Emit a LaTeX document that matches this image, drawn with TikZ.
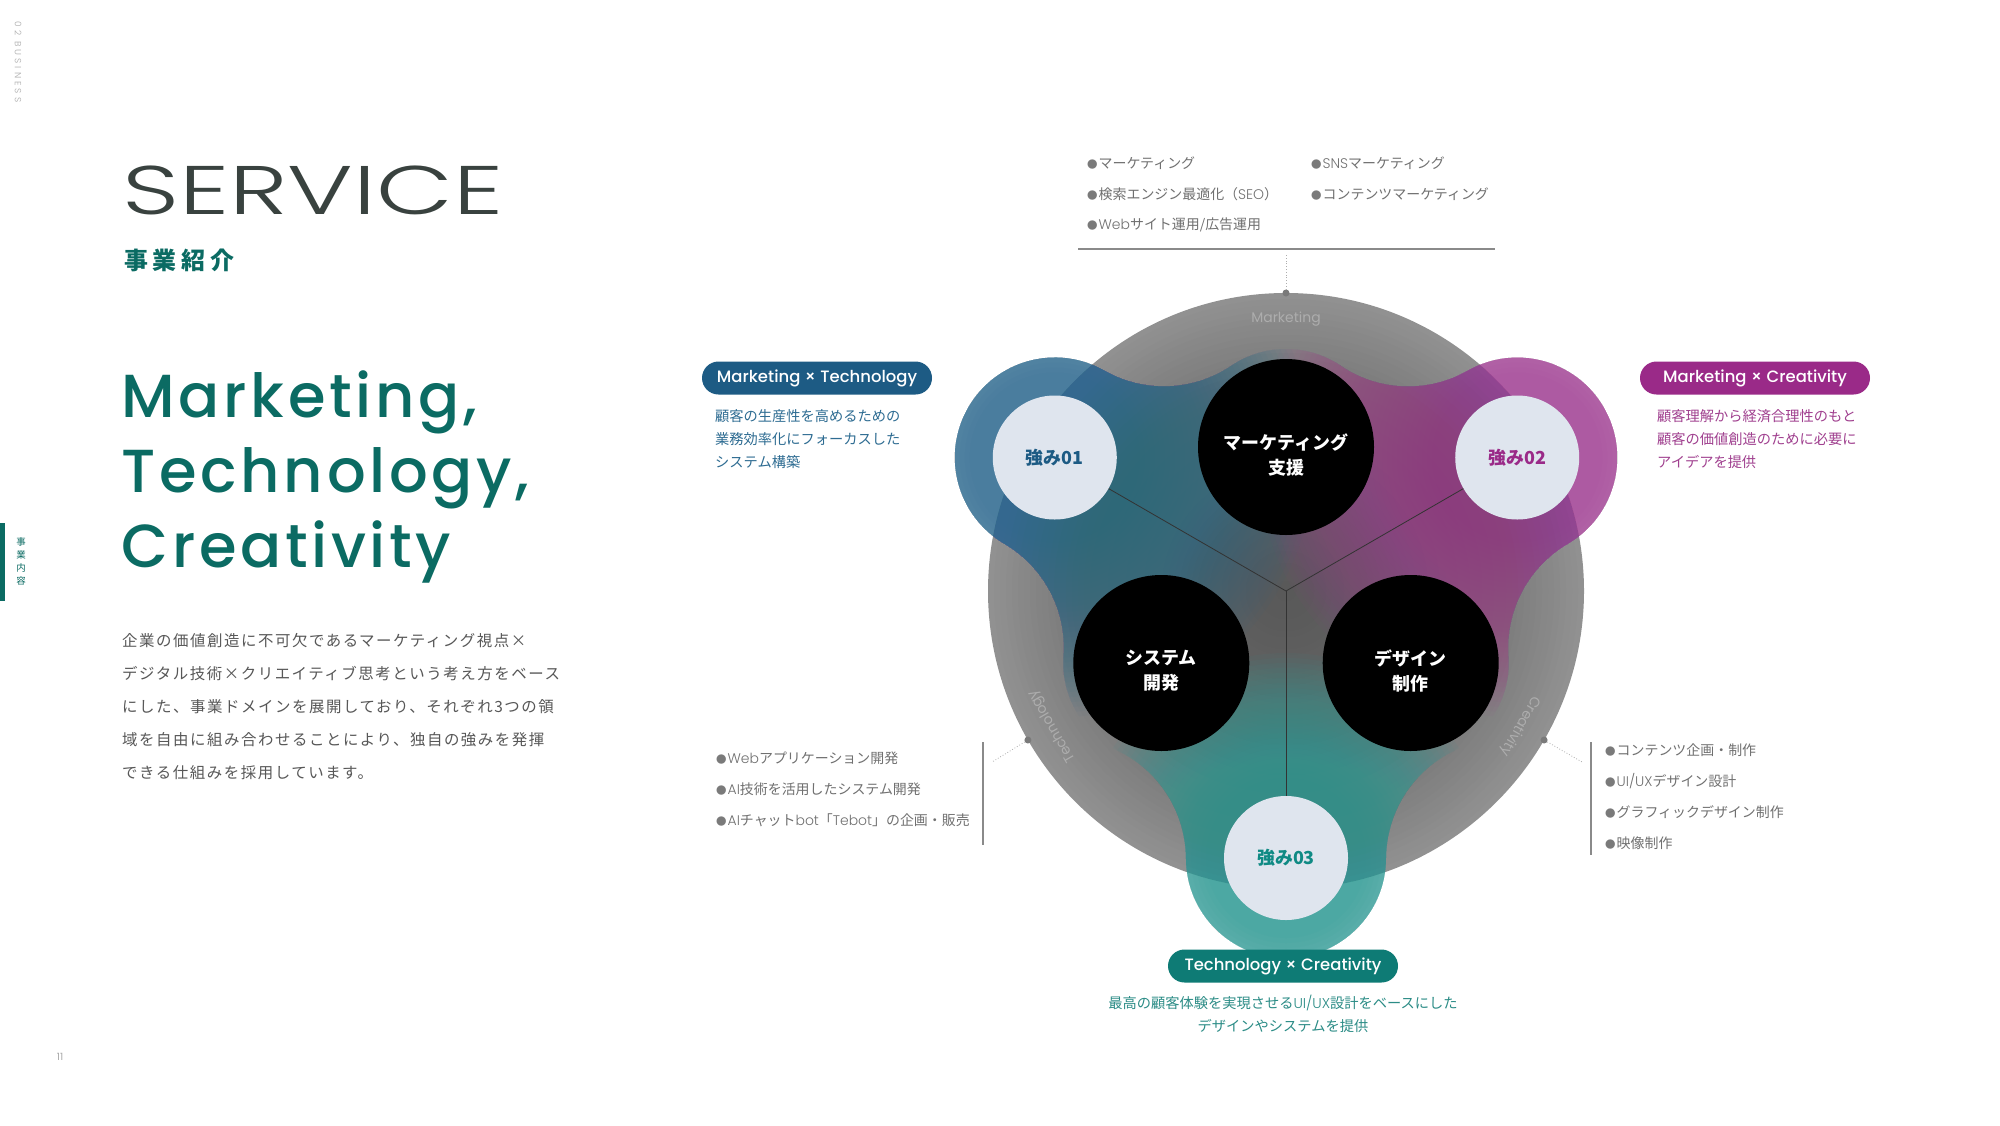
\documentclass[tikz,border=0pt]{standalone}
\usepackage{fontspec}
\setmainfont{Noto Sans CJK JP}
\newfontfamily\jpbody{Noto Sans CJK JP}[LetterSpace=10]
\newfontfamily\jphead{Noto Sans CJK JP}[LetterSpace=20]
\newfontfamily\pop{Poppins}
\newfontfamily\poplt{Poppins Light}
\newfontfamily\popmid{Poppins Medium}
\newfontfamily\popwide{Poppins Medium}[LetterSpace=6]
\newfontfamily\poplight{Poppins Light}[FakeStretch=1.45]
\newfontfamily\poptiny{Poppins Light}[LetterSpace=35]
\usetikzlibrary{calc}

\definecolor{headteal}{HTML}{0B6B63}
\definecolor{svcgray}{HTML}{39423F}
\definecolor{bodygray}{HTML}{575757}
\definecolor{listgray}{HTML}{707070}
\definecolor{bulgray}{HTML}{7A7A7A}
\definecolor{tinygray}{HTML}{A8A8A8}
\definecolor{rulegray}{HTML}{8A8A8A}
\definecolor{labelgray}{HTML}{ADADAD}
\definecolor{mtblue}{HTML}{1D5B84}
\definecolor{mtlobe}{HTML}{26688F}
\definecolor{mttext}{HTML}{2E6C92}
\definecolor{mcpink}{HTML}{9A2A88}
\definecolor{mclobe}{HTML}{A23B94}
\definecolor{mctext}{HTML}{A0408F}
\definecolor{tcteal}{HTML}{0E7B75}
\definecolor{tclobe}{HTML}{2C9C96}
\definecolor{tctext}{HTML}{2B8C86}
\definecolor{tcstrong}{HTML}{0F8A84}
\definecolor{lightdisc}{HTML}{DFE5EE}
\definecolor{gcin}{HTML}{595959}
\definecolor{gcout}{HTML}{919191}

\newcommand\bul{{\fontsize{10.5}{10}\selectfont\textcolor{bulgray}{●}}\hspace{1bp}}

\begin{document}
\begin{tikzpicture}[x=1bp,y=-1bp,
  item/.style={anchor=west,inner sep=0,text=listgray,font=\fontsize{14}{16}\selectfont},
  desc/.style={inner sep=0,font=\fontsize{14.3}{23}\selectfont},
  pill/.style={rounded corners=16.5bp,minimum width=230bp,minimum height=33bp,inner sep=0,text=white,font=\popmid\fontsize{16.5}{20}\selectfont},
  core/.style={circle,fill=black,minimum size=176bp,inner sep=0},
  coretext/.style={text=white,align=center,inner sep=0,font=\bfseries\fontsize{18}{25}\selectfont},
  strong/.style={circle,fill=lightdisc,minimum size=124bp,inner sep=0,font=\bfseries\fontsize{18}{20}\selectfont},
  ring/.style={text=labelgray,inner sep=0,font=\pop\fontsize{14}{16}\selectfont},
  edgedot/.style={circle,fill=bulgray,minimum size=7bp,inner sep=0},
  guide/.style={draw=rulegray!70,dotted,line width=.8bp},
  hubline/.style={draw=black!80,line width=.8bp}
]
\fill[white] (0,0) rectangle (2000,1125);
\useasboundingbox (0,0) rectangle (2000,1125);

% left column
\node[rotate=-90,text=tinygray,font=\poptiny\fontsize{9}{9}\selectfont] (bizTag) at (18,62) {02 BUSINESS};
\fill[headteal] (0,523) rectangle (5,601);
\node[align=center,text=headteal,inner sep=0,font=\fontsize{9.5}{13}\selectfont] (bizSide) at (21,561) {事\\業\\内\\容};
\node[anchor=west,inner sep=0,text=svcgray,font=\poplight\fontsize{69}{70}\selectfont] (svc) at (122,190) {SERVICE};
\node[anchor=west,inner sep=0,text=headteal,font=\jphead\bfseries\fontsize{24}{26}\selectfont] (svcJp) at (124,260) {事業紹介};
\node[anchor=base west,inner sep=0,text=headteal,font=\popwide\fontsize{61}{75}\selectfont] (hdA) at (121.5,417) {Marketing,};
\node[anchor=base west,inner sep=0,text=headteal,font=\popwide\fontsize{61}{75}\selectfont] (hdB) at (121.5,492) {Technology,};
\node[anchor=base west,inner sep=0,text=headteal,font=\popwide\fontsize{61}{75}\selectfont] (hdC) at (121.5,567) {Creativity};
\node[anchor=west,inner sep=0,align=left,text=bodygray,font=\jpbody\fontsize{15.5}{33.2}\selectfont] (para) at (122,706.6)
  {企業の価値創造に不可欠であるマーケティング視点×\\デジタル技術×クリエイティブ思考という考え方をベース\\にした、事業ドメインを展開しており、それぞれ3つの領\\域を自由に組み合わせることにより、独自の強みを発揮\\できる仕組みを採用しています。};
\node[text=tinygray,font=\pop\fontsize{10}{10}\selectfont] (pgNo) at (60,1057) {11};

% circle diagram
\begin{scope}[shift={(1286,591)},yscale=-1]
  \coordinate (hub) at (0,0);
  \foreach \n/\a in {1/150,2/30,3/270} \coordinate (s\n) at (\a:267);
  \foreach \n/\a in {mk/90,sy/210,de/330} \coordinate (\n) at (\a:144);
  \foreach \n/\a in {1/90,2/210,3/330} \coordinate (e\n) at (\a:298);
  \foreach \r in {298,292,...,4}{
    \pgfmathsetmacro\pc{100*(\r/298)^1.6}
    \fill[gcout!\pc!gcin] (hub) circle (\r);
  }
  \begin{scope}
    \clip ($(90:144)+(55.93:98)$)
      \foreach \s in {90,210,330}{
        -- ($(\s:144)+(\s-34.07:98)$)
        arc[start angle=\s-34.07,end angle=\s+34.07,radius=98]
        arc[start angle=\s+214.07,end angle=\s+150.28,radius=120]
        arc[start angle=\s-29.72,end angle=\s+149.72,radius=100]
        arc[start angle=\s-30.28,end angle=\s-94.07,radius=120]
      } -- cycle;
    \foreach \r in {260,255,...,85}{
      \fill[mtlobe,fill opacity=.045] (s1) circle (\r);
      \fill[mclobe,fill opacity=.045] (s2) circle (\r);
    }
    \foreach \r in {205,200,...,80}
      \fill[tclobe,fill opacity=.062] (s3) circle (\r);
  \end{scope}
\end{scope}
\foreach \n in {1,2,3} \draw[hubline] (hub) -- (s\n);

\node[core] (mkc) at (mk) {};
\node[core] (syc) at (sy) {};
\node[core] (dec) at (de) {};
\node[coretext] (mkt) at ([yshift=-8bp]mk) {マーケティング\\支援};
\node[coretext] (syt) at ([yshift=-8bp]sy) {システム\\開発};
\node[coretext] (det) at ([yshift=-8bp]de) {デザイン\\制作};

\node[strong,text=mtblue] (st1) at (s1) {強み01};
\node[strong,text=mcpink] (st2) at (s2) {強み02};
\node[strong,text=tcstrong] (st3) at (s3) {強み03};

\node[ring] (lbMk) at (1286,319) {Marketing};
\node[ring,rotate=120] (lbTc) at (1052,726) {Technology};
\node[ring,rotate=-120] (lbCr) at (1520,726) {Creativity};

\foreach \n in {1,2,3} \node[edgedot] (ed\n) at (e\n) {};

% marketing list
\coordinate (ruleL) at (1078,249);
\coordinate (ruleR) at (1495,249);
\coordinate (ruleM) at (1286,253);
\draw[rulegray,line width=1.1bp] (ruleL) -- (ruleR);
\draw[guide] (ed1) -- (ruleM);
\foreach \t [count=\i] in {{マーケティング},{検索エンジン最適化（{\poplt SEO}）},{{\poplt Web}サイト運用/広告運用}}
  \node[item] (mkL\i) at (1087,132+31*\i) {\bul\t};
\foreach \t [count=\i] in {{{\poplt SNS}マーケティング},{コンテンツマーケティング}}
  \node[item] (mkR\i) at (1311,132+31*\i) {\bul\t};

% technology list
\coordinate (tkEnd) at (992,762);
\coordinate (tkTop) at (983,742);
\coordinate (tkBot) at (983,845);
\draw[guide] (ed2) -- (tkEnd);
\draw[rulegray,line width=1.1bp] (tkTop) -- (tkBot);
\foreach \t [count=\i] in {{{\poplt Web}アプリケーション開発},{{\poplt AI}技術を活用したシステム開発},{{\poplt AI}チャット{\poplt bot}「{\poplt Tebot}」の企画・販売}}
  \node[item] (tkL\i) at (716,727+31*\i) {\bul\t};

% creativity list
\coordinate (crEnd) at (1582,762);
\coordinate (crTop) at (1591,742);
\coordinate (crBot) at (1591,855);
\draw[guide] (ed3) -- (crEnd);
\draw[rulegray,line width=1.1bp] (crTop) -- (crBot);
\foreach \t [count=\i] in {{コンテンツ企画・制作},{{\poplt UI/UX}デザイン設計},{グラフィックデザイン制作},{映像制作}}
  \node[item] (crL\i) at (1605,719+31*\i) {\bul\t};

% combination labels
\node[pill,fill=mtblue] (pMT) at (817,378) {Marketing × Technology};
\node[pill,fill=mcpink] (pMC) at (1755,378) {Marketing × Creativity};
\node[pill,fill=tcteal] (pTC) at (1283,966) {Technology × Creativity};
\node[desc,anchor=west,align=left,text=mttext] (dMT) at (715,439) {顧客の生産性を高めるための\\業務効率化にフォーカスした\\システム構築};
\node[desc,anchor=west,align=left,text=mctext] (dMC) at (1657,439) {顧客理解から経済合理性のもと\\顧客の価値創造のために必要に\\アイデアを提供};
\node[desc,align=center,text=tctext] (dTC) at (1283,1014) {最高の顧客体験を実現させる{\poplt UI/UX}設計をベースにした\\デザインやシステムを提供};
\end{tikzpicture}
\end{document}
